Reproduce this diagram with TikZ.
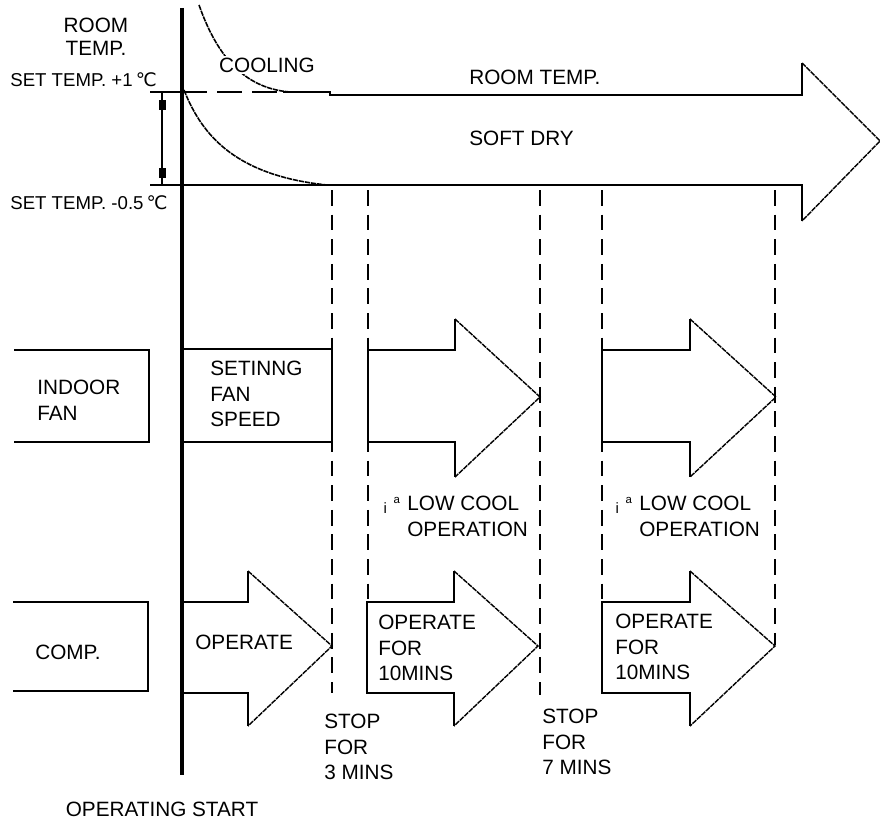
\documentclass[tikz,border=0pt]{standalone}
\usepackage{fontspec}
\setmainfont{Liberation Sans}
\newfontfamily\degfont{DejaVu Sans}
\newcommand{\degC}{{\degfont ℃}}
\newcommand{\lowmark}{\llap{{\fontsize{8.5}{8.5}\selectfont\raisebox{-0.6mm}{i}}\hspace{1.3mm}{\fontsize{6.5}{6.5}\selectfont\raisebox{1.4mm}{a}}\hspace{1.5mm}}}

\begin{document}
\begin{tikzpicture}[x=0.2mm,y=-0.2mm,
    txt/.style={font=\fontsize{11.8}{14.7}\selectfont,inner sep=0pt,align=left},
    small/.style={font=\fontsize{10.6}{12}\selectfont,inner sep=0pt},
    startline/.style={line width=2.3pt},
    outline/.style={line width=1.1pt},
    slope/.style={line width=0.8pt,dash pattern=on 3pt off 0.5pt},
    guide/.style={line width=1.1pt,dash pattern=on 9pt off 5pt},
    curv/.style={line width=0.9pt,dash pattern=on 3pt off 0.5pt}
  ]
  \useasboundingbox (0,0) rectangle (880,818);

  % stop guides
  \foreach \gx/\gy in {332/693,368/602,540/695,602/601,775/645}
    \draw[guide] (\gx,190) -- (\gx,\gy);

  % room temperature band
  \draw[outline] (150,92) -- (182,92);
  \draw[outline,dash pattern=on 14pt off 6pt] (182,92) -- (283,92);
  \draw[outline] (283,92) -- (330,92) -- (330,95) -- (802,95) -- (802,63);
  \draw[slope] (802,63) -- (880,141) -- (802,221);
  \draw[outline] (802,221) -- (802,185) -- (150,185);
  \draw[outline] (162,92) -- (162,185);
  \fill (159,100) rectangle (166,110);
  \fill (159,168) rectangle (166,178);
  \draw[curv] (199,5) .. controls (215,50) and (240,88) .. (290,92);
  \draw[curv] (184,90) .. controls (200,130) and (230,175) .. (327,185);

  \node[txt,align=center,font=\fontsize{11.8}{13}\selectfont] (roomlbl) at (96,37) {ROOM\\TEMP.};
  \node[small,anchor=west] (sethigh) at (10,80) {SET TEMP. +1\,\degC};
  \node[small,anchor=west] (setlow) at (10,203) {SET TEMP. -0.5\,\degC};
  \node[txt,fill=white,inner sep=1pt] (cooling) at (267,65) {COOLING};
  \node[txt,anchor=west] (roomtemp) at (469,77) {ROOM TEMP.};
  \node[txt,anchor=west] (softdry) at (469,138) {SOFT DRY};

  % indoor fan
  \draw[outline] (14,350) -- (149,350) -- (149,442) -- (14,442);
  \draw[outline] (182,349) -- (332,349) -- (332,442) -- (182,442);
  \foreach \ax/\hx/\tx in {368/455/540,602/690/776}{
    \draw[outline] (\hx,319) -- (\hx,350) -- (\ax,350) -- (\ax,442) -- (\hx,442) -- (\hx,477);
    \draw[slope] (\hx,319) -- (\tx,397) -- (\hx,477);
  }
  \node[txt,anchor=west] (indoor) at (37,400) {INDOOR\\FAN};
  \node[txt,anchor=west] (fanset) at (210,394) {SETINNG\\FAN\\SPEED};
  \node[txt,anchor=west] (lowa) at (407,516) {\lowmark LOW COOL\\OPERATION};
  \node[txt,anchor=west] (lowb) at (639,516) {\lowmark LOW COOL\\OPERATION};

  % compressor
  \draw[outline] (13,602) -- (148,602) -- (148,691) -- (13,691);
  \foreach \ax/\hx/\tx in {182/248/332,367/454/538,602/690/775}{
    \draw[outline] (\hx,571) -- (\hx,602) -- (\ax,602) -- (\ax,693) -- (\hx,693) -- (\hx,726);
    \draw[slope] (\hx,571) -- (\tx,646) -- (\hx,726);
  }
  \node[txt] (comp) at (68,652) {COMP.};
  \node[txt,anchor=west] (opa) at (195,642) {OPERATE};
  \node[txt,anchor=west] (opb) at (378,648) {OPERATE\\FOR\\10MINS};
  \node[txt,anchor=west] (opc) at (615,647) {OPERATE\\FOR\\10MINS};
  \node[txt,anchor=west] (stopa) at (324,747) {STOP\\FOR\\3 MINS};
  \node[txt,anchor=west] (stopb) at (542,742) {STOP\\FOR\\7 MINS};

  \draw[startline] (182,8) -- (182,775);
  \node[txt] (start) at (162,809) {OPERATING START};
\end{tikzpicture}
\end{document}
